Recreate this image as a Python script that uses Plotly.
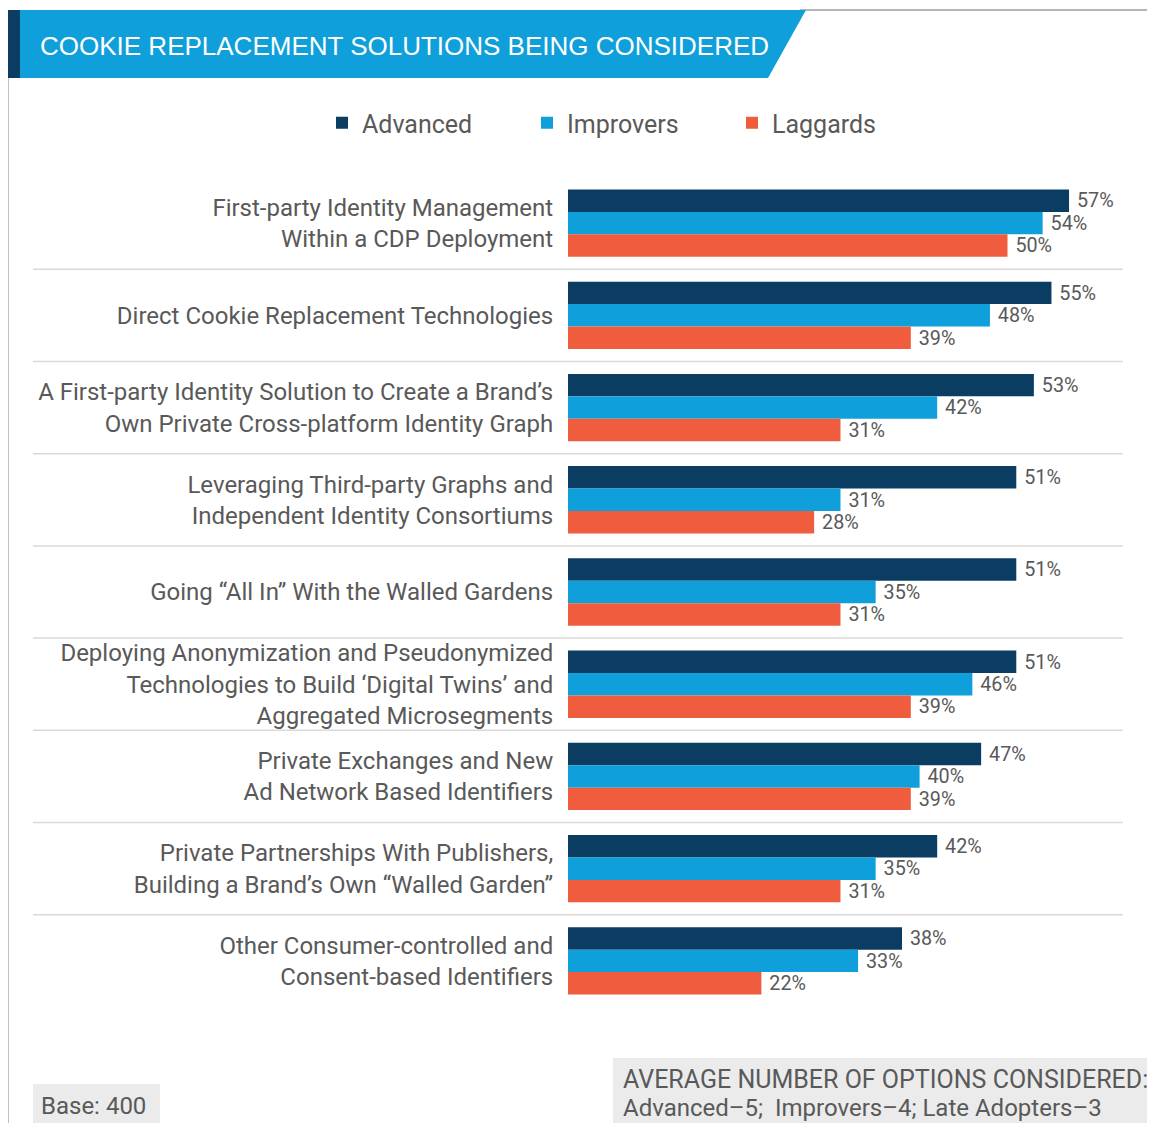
import plotly.graph_objects as go

categories = [
    "First-party Identity Management<br>Within a CDP Deployment",
    "Direct Cookie Replacement Technologies",
    "A First-party Identity Solution to Create a Brand’s<br>Own Private Cross-platform Identity Graph",
    "Leveraging Third-party Graphs and<br>Independent Identity Consortiums",
    "Going “All In” With the Walled Gardens",
    "Deploying Anonymization and Pseudonymized<br>Technologies to Build ‘Digital Twins’ and<br>Aggregated Microsegments",
    "Private Exchanges and New<br>Ad Network Based Identifiers",
    "Private Partnerships With Publishers,<br>Building a Brand’s Own “Walled Garden”",
    "Other Consumer-controlled and<br>Consent-based Identifiers",
]
advanced = [57, 55, 53, 51, 51, 51, 47, 42, 38]
improvers = [54, 48, 42, 31, 35, 46, 40, 35, 33]
laggards = [50, 39, 31, 28, 31, 39, 39, 31, 22]

series = [("Advanced", advanced, "#0b3d63"),
          ("Improvers", improvers, "#0f9fda"),
          ("Laggards", laggards, "#f05d3e")]

# the page puts the figure 8px in from the window corner
OFF = 8
W, H = 1155 - OFF, 1123 - OFF
L, R, T, B = 568, 1123, 177, 1007  # plot area in window pixels
grey = "#595959"
font = "Roboto, Liberation Sans, Arial, sans-serif"


def px(x):
    return (x - L) / (R - L)


def py(y):
    return (B - y) / (B - T)


ypos = list(range(len(categories)))

fig = go.Figure()
for name, vals, color in series:
    fig.add_trace(go.Bar(
        y=ypos, x=vals, name=name, orientation="h",
        marker=dict(color=color, line=dict(width=0)),
        text=[f"\u00a0{v}%" for v in vals], textposition="outside",
        textfont=dict(size=22, color=grey, family=font),
        cliponaxis=False,
    ))

shapes = []
# separators between groups
for i in range(len(categories) - 1):
    shapes.append(dict(type="line", xref="paper", yref="y",
                       x0=px(33), x1=px(1123), y0=i + 0.5, y1=i + 0.5,
                       line=dict(color="#d9d9d9", width=1.5)))
# left frame line and top thin line
shapes.append(dict(type="line", xref="paper", yref="paper",
                   x0=px(8), x1=px(8), y0=py(78), y1=py(1125),
                   line=dict(color="#9bb0c4", width=1.5)))
shapes.append(dict(type="line", xref="paper", yref="paper",
                   x0=px(800), x1=px(1160), y0=py(10), y1=py(10),
                   line=dict(color="#6d6d6d", width=1)))
# title banner
shapes.append(dict(type="path", xref="paper", yref="paper",
                   path=f"M {px(8)},{py(10)} L {px(806)},{py(10)} L {px(768)},{py(78)} L {px(8)},{py(78)} Z",
                   fillcolor="#0f9fda", line=dict(width=0)))
shapes.append(dict(type="rect", xref="paper", yref="paper",
                   x0=px(8), x1=px(20), y0=py(10), y1=py(78),
                   fillcolor="#0b3d63", line=dict(width=0)))
# bottom boxes
shapes.append(dict(type="rect", xref="paper", yref="paper",
                   x0=px(33), x1=px(160), y0=py(1084), y1=py(1125),
                   fillcolor="#ebebeb", line=dict(width=0)))
shapes.append(dict(type="rect", xref="paper", yref="paper",
                   x0=px(613), x1=px(1160), y0=py(1058), y1=py(1125),
                   fillcolor="#ebebeb", line=dict(width=0)))

annotations = [
    dict(text="COOKIE REPLACEMENT SOLUTIONS BEING CONSIDERED",
         xref="paper", yref="paper", x=px(38), y=py(46),
         xanchor="left", yanchor="middle", showarrow=False,
         font=dict(size=26, color="white", family="Liberation Sans, Arial, sans-serif")),
    dict(text="Base: 400", xref="paper", yref="paper", x=px(39), y=py(1106),
         xanchor="left", yanchor="middle", showarrow=False,
         font=dict(size=24, color=grey, family=font)),
    dict(text="AVERAGE NUMBER OF OPTIONS CONSIDERED:", xref="paper", yref="paper",
         x=px(621), y=py(1079), xanchor="left", yanchor="middle", showarrow=False,
         font=dict(size=25, color=grey, family=font)),
    dict(text="Advanced–5;  Improvers–4; Late Adopters–3", xref="paper", yref="paper",
         x=px(621), y=py(1108), xanchor="left", yanchor="middle", showarrow=False,
         font=dict(size=24, color=grey, family=font)),
]

fig.update_layout(
    width=W, height=H,
    margin=dict(l=L - OFF, r=W - (R - OFF), t=T - OFF, b=H - (B - OFF), pad=0),
    paper_bgcolor="white", plot_bgcolor="white",
    barmode="group", bargap=0.27, bargroupgap=0,
    showlegend=True,
    legend=dict(orientation="h", x=px(322), y=py(123), xanchor="left", yanchor="middle",
                traceorder="normal", entrywidth=160, entrywidthmode="pixels",
                font=dict(size=25, color=grey, family=font), itemwidth=30),
    shapes=shapes, annotations=annotations,
    font=dict(family=font, color=grey),
)
fig.update_xaxes(range=[0, (R - L) / 8.79], visible=False, fixedrange=True)
fig.update_yaxes(tickvals=ypos, ticktext=categories, autorange=False,
                 range=[len(categories) - 0.5, -0.5],
                 showgrid=False, zeroline=False, showline=False,
                 ticks="outside", ticklen=9, tickcolor="rgba(0,0,0,0)",
                 tickfont=dict(size=24, color=grey, family=font))

fig.write_html("out.html")
